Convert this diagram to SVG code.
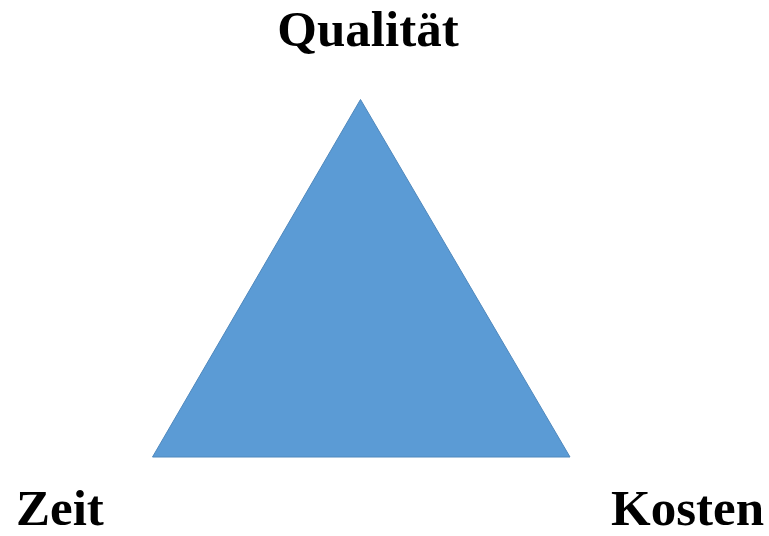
<svg xmlns="http://www.w3.org/2000/svg" width="769" height="536" viewBox="0 0 769 536">
<style>
.lbl{font-family:"Liberation Serif","Times New Roman",serif;font-weight:bold;font-size:51px;fill:#000}
</style>
<rect width="769" height="536" fill="#fff"/>
<g id="triangle">
<polygon points="360.5,99.5 152.5,457 570,457" fill="#5B9BD5" stroke="#4F88BD" stroke-width="1"/>
</g>
<g id="qualitaet"><text class="lbl" x="368" y="46" text-anchor="middle">Qualität</text></g>
<g id="zeit"><text class="lbl" x="16" y="525">Zeit</text></g>
<g id="kosten"><text class="lbl" x="611" y="525">Kosten</text></g>
<g id="connectors"></g>
</svg>
